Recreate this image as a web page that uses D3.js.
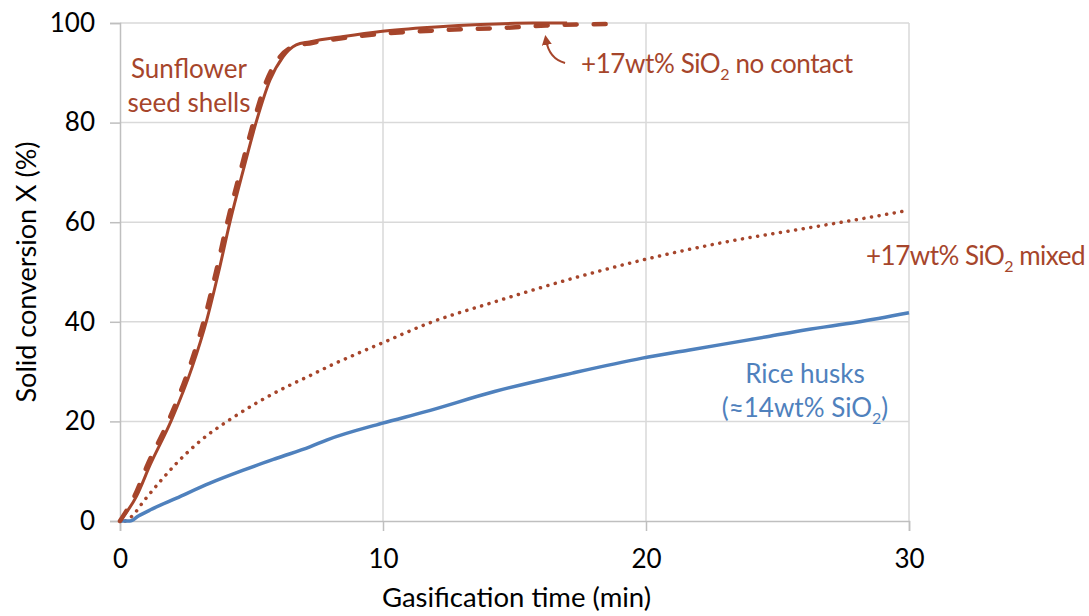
<!DOCTYPE html>
<html>
<head>
<meta charset="utf-8">
<script src="https://cdn.jsdelivr.net/npm/d3@7"></script>
<style>
  body { margin: 0; background: #fff; }
  text { font-family: Lato, "Open Sans", sans-serif; }
</style>
</head>
<body>
<div></div>
<script>
// time (min) / conversion (%)
var sunT = [0, 0.63, 1.14, 1.96, 2.75, 3.3, 3.75, 4.18, 4.69, 5.2, 5.7, 6.2, 6.7, 7.2, 8.5, 9.9, 12, 13.7, 15.7, 17];
var sunX = [0, 5, 11.2, 20.3, 31, 40.4, 50, 60, 70.5, 80.5, 88.5, 93.2, 95.6, 96.2, 97.3, 98.3, 99.2, 99.7, 100, 100];

var noContactT = [0, 0.55, 1.04, 1.86, 2.65, 3.2, 3.65, 4.08, 4.59, 5.1, 5.58, 6.08, 6.6, 7.3, 8.5, 9.9, 12.4, 14.9, 16.2, 18.5];
var noContactX = [0, 5, 11.2, 20.3, 31, 40.4, 50, 60, 70.5, 80.5, 88.5, 93.2, 95.3, 96, 97, 97.8, 98.6, 99.1, 99.5, 99.8];

var mixedT = [0.2, 0.5, 0.89, 1.52, 2.15, 3.1, 4.16, 5.29, 6.43, 7.03, 8, 9.95, 11.73, 14.24, 17.2, 19.86, 23.1, 26.1, 28, 30];
var mixedX = [0, 1.2, 3.9, 7.9, 11.6, 16.3, 20.3, 24, 27.2, 28.7, 31.2, 35.7, 39.7, 44, 48.7, 52.4, 56.1, 58.8, 60.5, 62.4];

var riceT = [0, 0.38, 0.7, 1.14, 2.15, 3.42, 4.69, 5.96, 7.22, 7.88, 9.95, 11.58, 14.24, 17.2, 19.86, 21.6, 24.6, 26.1, 28, 30];
var riceX = [0, 0, 1, 2.2, 4.6, 7.6, 10.2, 12.6, 14.9, 16.3, 19.6, 21.9, 26, 29.7, 32.7, 34.3, 37, 38.4, 39.9, 41.8];

var xTicks = [0, 10, 20, 30];
var yTicks = [0, 20, 40, 60, 80, 100];

var brown = "#a6452b",
    blue = "#4f81bd",
    grid = "#d9d9d9";

var margin = {top: 23, right: 180, bottom: 95, left: 120},
    width = 1089 - margin.left - margin.right,
    height = 616 - margin.top - margin.bottom;

var x = d3.scaleLinear().domain([0, 30]).range([0, width]),
    y = d3.scaleLinear().domain([0, 100]).range([height, 0]);

var svg = d3.select("div")
    .append("svg")
    .attr("width", 1089)
    .attr("height", 616)
    .append("g")
    .attr("transform", "translate(" + margin.left + "," + margin.top + ")");

// gridlines
svg.selectAll(".hgrid")
    .data(yTicks.slice(1))
    .enter()
    .append("line")
    .attr("x1", 0).attr("x2", width)
    .attr("y1", y).attr("y2", y)
    .attr("stroke", grid).attr("stroke-width", 1.5);

svg.selectAll(".vgrid")
    .data(xTicks.slice(1))
    .enter()
    .append("line")
    .attr("x1", x).attr("x2", x)
    .attr("y1", 0).attr("y2", height)
    .attr("stroke", grid).attr("stroke-width", 1.5);

// axes
var xAxis = svg.append("g")
    .attr("transform", "translate(0," + height + ")")
    .call(d3.axisBottom(x).tickValues(xTicks).tickSize(10).tickPadding(19));

var yAxis = svg.append("g")
    .call(d3.axisLeft(y).tickValues(yTicks).tickSize(10).tickPadding(15));

[xAxis, yAxis].forEach(function (g) {
    g.select(".domain").attr("stroke", "#bfbfbf").attr("stroke-width", 1.5);
    g.selectAll(".tick line").attr("stroke", "#bfbfbf").attr("stroke-width", 1.5);
    g.selectAll(".tick text")
        .attr("fill", "#000")
        .style("font-size", "26px")
        .style("font-family", "Lato, sans-serif");
});

svg.append("text")
    .attr("x", width / 2 + 2)
    .attr("y", height + 86)
    .attr("text-anchor", "middle")
    .style("font-size", "27.5px")
    .text("Gasification time (min)");

svg.append("text")
    .attr("transform", "translate(-84," + (height / 2) + ") rotate(-90)")
    .attr("text-anchor", "middle")
    .style("font-size", "27px")
    .text("Solid conversion X (%)");

// series
var line = d3.line()
    .x(function (d) { return x(d[0]); })
    .y(function (d) { return y(d[1]); })
    .curve(d3.curveMonotoneX);

function pairs(ts, xs) {
    return ts.map(function (t, i) { return [t, xs[i]]; });
}

svg.append("path")
    .datum(pairs(mixedT, mixedX))
    .attr("d", line)
    .attr("fill", "none")
    .attr("stroke", brown)
    .attr("stroke-width", 3.5)
    .attr("stroke-linecap", "round")
    .attr("stroke-dasharray", "0.1 7.6");

svg.append("path")
    .datum(pairs(riceT, riceX))
    .attr("d", line)
    .attr("fill", "none")
    .attr("stroke", blue)
    .attr("stroke-width", 3.5);

svg.append("path")
    .datum(pairs(noContactT, noContactX))
    .attr("d", line)
    .attr("fill", "none")
    .attr("stroke", brown)
    .attr("stroke-width", 4.5)
    .attr("stroke-linecap", "round")
    .attr("stroke-dasharray", "12 17");

svg.append("path")
    .datum(pairs(sunT, sunX))
    .attr("d", line)
    .attr("fill", "none")
    .attr("stroke", brown)
    .attr("stroke-width", 3);

// labels; a part given as {sub: ...} is drawn as a subscript
function label(lines, cx, cy, color, anchor, spacing) {
    var t = svg.append("text")
        .attr("text-anchor", anchor || "middle")
        .attr("fill", color)
        .style("font-size", "26px")
        .style("letter-spacing", (spacing || 0) + "px");
    lines.forEach(function (l, i) {
        var row = t.append("tspan").attr("x", cx).attr("y", cy + i * 34);
        var lowered = false;
        l.forEach(function (part) {
            if (typeof part === "string") {
                row.append("tspan").attr("dy", lowered ? -7 : null).text(part);
                lowered = false;
            } else {
                row.append("tspan").attr("dy", 7).style("font-size", "16px").text(part.sub);
                lowered = true;
            }
        });
    });
}

label([["Sunflower"], ["seed shells"]], 69, 55, brown);
label([["+17wt% SiO", {sub: "2"}, " no contact"]], 461, 50, brown, "start", -0.4);
label([["+17wt% SiO", {sub: "2"}, " mixed"]], 746, 242, brown, "start", -0.5);
label([["Rice husks"], ["(\u224814wt% SiO", {sub: "2"}, ")"]], 685, 360, blue);

// arrow to the no-contact curve
svg.append("defs").append("marker")
    .attr("id", "head")
    .attr("viewBox", "0 0 10 10")
    .attr("refX", 5).attr("refY", 5)
    .attr("markerWidth", 5).attr("markerHeight", 5)
    .attr("orient", "auto")
    .append("path")
    .attr("d", "M0,0L10,5L0,10z")
    .attr("fill", brown);

var tipX = x(16.2), tipY = y(97.6);
svg.append("path")
    .attr("d", "M" + (tipX + 19) + "," + (tipY + 28) +
        "Q" + (tipX + 3) + "," + (tipY + 24) + " " + tipX + "," + (tipY + 5))
    .attr("fill", "none")
    .attr("stroke", brown)
    .attr("stroke-width", 2)
    .attr("marker-end", "url(#head)");
</script>
</body>
</html>
